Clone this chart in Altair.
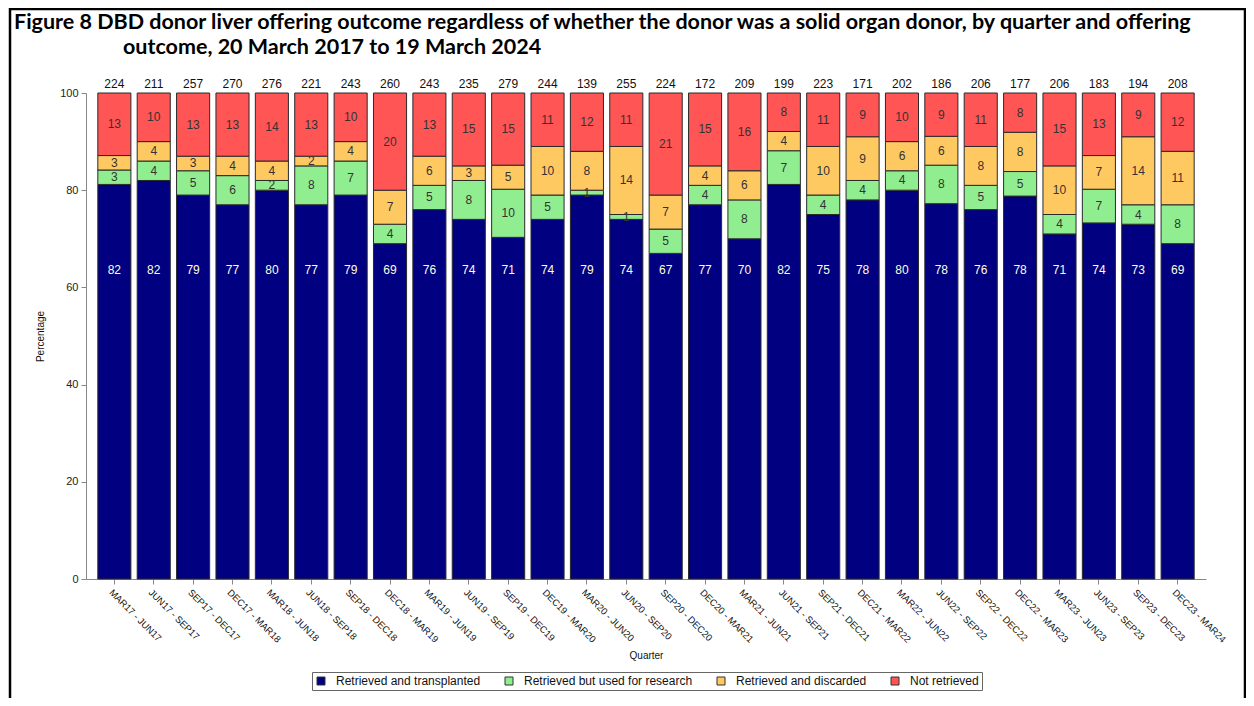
import altair as alt
import pandas as pd

quarters = ["MAR17 - JUN17", "JUN17 - SEP17", "SEP17 - DEC17", "DEC17 - MAR18",
            "MAR18 - JUN18", "JUN18 - SEP18", "SEP18 - DEC18", "DEC18 - MAR19",
            "MAR19 - JUN19", "JUN19 - SEP19", "SEP19 - DEC19", "DEC19 - MAR20",
            "MAR20 - JUN20", "JUN20 - SEP20", "SEP20 - DEC20", "DEC20 - MAR21",
            "MAR21 - JUN21", "JUN21 - SEP21", "SEP21 - DEC21", "DEC21 - MAR22",
            "MAR22 - JUN22", "JUN22 - SEP22", "SEP22 - DEC22", "DEC22 - MAR23",
            "MAR23 - JUN23", "JUN23 - SEP23", "SEP23 - DEC23", "DEC23 - MAR24"]
totals = [224, 211, 257, 270, 276, 221, 243, 260, 243, 235, 279, 244, 139, 255,
          224, 172, 209, 199, 223, 171, 202, 186, 206, 177, 206, 183, 194, 208]
transplanted = [82, 82, 79, 77, 80, 77, 79, 69, 76, 74, 71, 74, 79, 74,
                67, 77, 70, 82, 75, 78, 80, 78, 76, 78, 71, 74, 73, 69]
research = [3, 4, 5, 6, 2, 8, 7, 4, 5, 8, 10, 5, 1, 1,
            5, 4, 8, 7, 4, 4, 4, 8, 5, 5, 4, 7, 4, 8]
discarded = [3, 4, 3, 4, 4, 2, 4, 7, 6, 3, 5, 10, 8, 14,
             7, 4, 6, 4, 10, 9, 6, 6, 8, 8, 10, 7, 14, 11]
not_retrieved = [13, 10, 13, 13, 14, 13, 10, 20, 13, 15, 15, 11, 12, 11,
                 21, 15, 16, 8, 11, 9, 10, 9, 11, 8, 15, 13, 9, 12]

outcomes = ["Retrieved and transplanted", "Retrieved but used for research",
            "Retrieved and discarded", "Not retrieved"]
colors = ["#000080", "#90EE90", "#FFC962", "#FF5555"]

title_lines = ["Figure 8 DBD  donor liver offering outcome regardless of whether the donor "
               "was a solid organ donor, by quarter and offering",
               "outcome, 20 March 2017 to 19 March 2024"]

rows = []
for i, q in enumerate(quarters):
    for k, (o, vals) in enumerate(zip(outcomes, [transplanted, research, discarded, not_retrieved])):
        rows.append({"quarter": q, "outcome": o, "order": k, "value": vals[i]})
df = pd.DataFrame(rows)
tot_df = pd.DataFrame({"quarter": quarters, "n": totals})

FONT = "Liberation Sans"
TFONT = "Lato"

xenc = alt.X("quarter:N", sort=quarters, title="Quarter",
             scale=alt.Scale(paddingInner=0.16, paddingOuter=0.3),
             axis=alt.Axis(labelAngle=45, labelAlign="left", labelBaseline="top",
                           labelFontSize=9.5, labelPadding=3, tickSize=5,
                           titlePadding=7, titleFontSize=10, titleFontWeight="normal",
                           labelFont=FONT, titleFont=FONT, labelColor="#111",
                           domainColor="#888", tickColor="#888", titleColor="#111"))

base = alt.Chart(df).transform_window(
    cum="sum(value)", groupby=["quarter"], sort=[alt.SortField("order")],
    frame=[None, 0]
).transform_joinaggregate(
    tot="sum(value)", groupby=["quarter"]
).transform_calculate(
    y0="(datum.cum - datum.value) / datum.tot * 100",
    y1="datum.cum / datum.tot * 100",
).transform_calculate(
    ylab="datum.order == 0 ? 63.5 : (datum.y0 + datum.y1) / 2"
)

yscale = alt.Scale(domain=[0, 100], nice=False)

bars = base.mark_bar(stroke="#2a2a2a", strokeWidth=1).encode(
    x=xenc,
    y=alt.Y("y0:Q", scale=yscale, title="Percentage",
            axis=alt.Axis(values=[0, 20, 40, 60, 80, 100], grid=False, tickSize=5,
                          labelPadding=3, labelFontSize=11, titleFontSize=10,
                          titleFontWeight="normal", titlePadding=14,
                          labelFont=FONT, titleFont=FONT, labelColor="#222",
                          titleColor="#111", domainColor="#888", tickColor="#888")),
    y2="y1:Q",
    color=alt.Color("outcome:N", scale=alt.Scale(domain=outcomes, range=colors),
                    sort=outcomes,
                    legend=alt.Legend(title=None, orient="none", direction="horizontal",
                                      legendX=226, legendY=579, symbolType="square",
                                      symbolSize=64, symbolStrokeColor="#333",
                                      symbolStrokeWidth=1, labelFontSize=12,
                                      labelFont=FONT, labelLimit=300, columnPadding=22,
                                      labelOffset=9, strokeColor="#666", padding=3,
                                      labelColor="#111")),
)

seg_text = base.mark_text(fontSize=12, font=FONT, baseline="middle").encode(
    x=alt.X("quarter:N", sort=quarters),
    y=alt.Y("ylab:Q", scale=yscale),
    text=alt.Text("value:Q"),
    color=alt.condition(alt.datum.order == 0, alt.value("#FFFFE0"), alt.value("#333")),
)

tot_text = alt.Chart(tot_df).mark_text(fontSize=12, font=FONT, baseline="bottom",
                                       dy=-2, color="#111").encode(
    x=alt.X("quarter:N", sort=quarters),
    y=alt.datum(100, scale=yscale),
    text="n:Q",
)

frame = alt.Chart(pd.DataFrame({"a": [0]})).mark_rect(
    fill=None, stroke="black", strokeWidth=2.5
).encode(x=alt.value(-76), x2=alt.value(1159), y=alt.value(-84), y2=alt.value(640))

title1 = alt.Chart(pd.DataFrame({"t": [title_lines[0]]})).mark_text(
    font=TFONT, fontSize=21.5, fontWeight="bold", align="left",
    baseline="alphabetic", color="#000"
).encode(x=alt.value(-72), y=alt.value(-64), text="t:N")

title2 = alt.Chart(pd.DataFrame({"t": [title_lines[1]]})).mark_text(
    font=TFONT, fontSize=21.5, fontWeight="bold", align="left",
    baseline="alphabetic", color="#000"
).encode(x=alt.value(37), y=alt.value(-39), text="t:N")

chart = alt.layer(bars, seg_text, tot_text, frame, title1, title2).properties(
    width=1120, height=486,
    padding={"left": 78, "top": 85, "right": 40, "bottom": 119},
    autosize=alt.AutoSizeParams(type="none"),
).configure_view(stroke=None).resolve_scale(color="shared")

chart.save("out.html", embed_options={"renderer": "svg", "actions": False})
